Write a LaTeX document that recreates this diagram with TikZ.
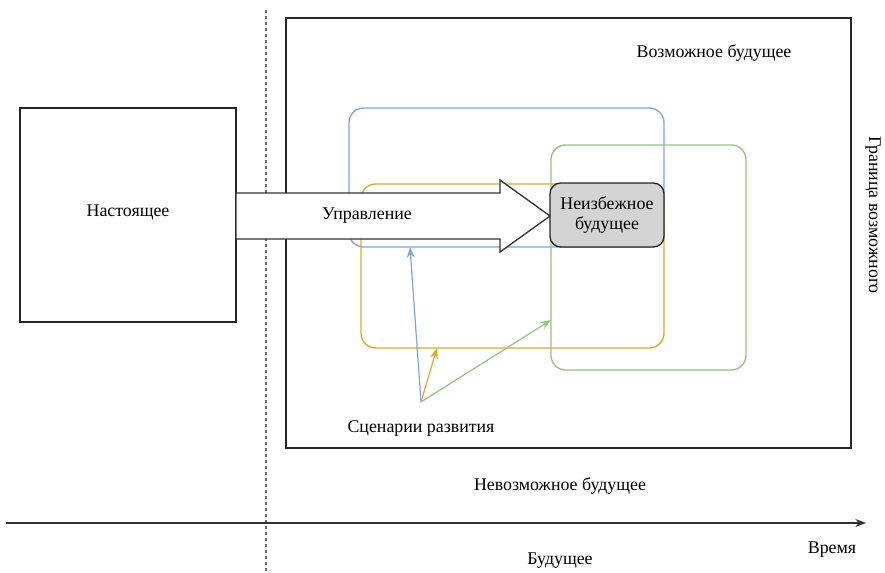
\documentclass[tikz,border=0pt]{standalone}
\usepackage{fontspec}
\setmainfont{Liberation Serif}
\usetikzlibrary{arrows.meta,shapes.arrows}
\definecolor{cblue}{HTML}{7EA6E0}
\definecolor{corange}{HTML}{E3A82B}
\definecolor{cgreen}{HTML}{97C47E}
\definecolor{cgray}{HTML}{D4D4D4}
\tikzset{
  lbl/.style={font=\fontsize{13.4}{15}\selectfont, inner sep=0pt},
  plainbox/.style={draw=black!85, line width=1pt, inner sep=0pt},
  zone/.style={line width=1pt, rounded corners=11pt, inner sep=0pt},
  scen/.style={line width=0.9pt, -{Stealth[length=8pt,width=6pt]}},
}
\begin{document}
\begin{tikzpicture}[x=0.75pt,y=-0.75pt]
\useasboundingbox (0,0) rectangle (885,572);
\fill[white] (0,0) rectangle (885,572);

% present / future boundary
\draw[black!60, line width=1pt, dash pattern=on 2.5pt off 2pt] (266,10) -- (266,572);

% possible future frame
\draw[plainbox] (286,18) rectangle (851,448);
\node[lbl] (possible) at (714,53) {Возможное будущее};
\node[lbl, rotate=-90] (border) at (873,215) {Граница возможного};

% present
\draw[plainbox] (20,108) rectangle (236,322);
\node[lbl] (present) at (128,213) {Настоящее};

% scenario zones
\draw[zone, draw=cblue] (349,108) rectangle (664,247);
\draw[zone, draw=corange] (361,184) rectangle (664,348);
\draw[zone, draw=cgreen] (551,145) rectangle (746,370);

% control arrow
\draw[black!80, line width=1pt, fill=white, line join=miter]
  (236,193) -- (500,193) -- (500,180) -- (550,216) -- (500,252) -- (500,239) -- (236,239) -- cycle;
\node[lbl] (control) at (367,216) {Управление};

% inevitable future
\node[draw=black!85, line width=1pt, fill=cgray, rounded corners=8pt,
      minimum width=114*0.75pt, minimum height=64*0.75pt, align=center,
      font=\fontsize{13.4}{15}\selectfont, inner sep=0pt] (inev) at (607,215)
      {Неизбежное\\будущее};

% scenarios
\node[lbl] (scenarios) at (421,428) {Сценарии развития};
\coordinate (src) at (421,402);
\coordinate (tblue) at (410,247);
\coordinate (torange) at (437,348);
\coordinate (tgreen) at (551,320);
\draw[scen, cblue] (src) -- (tblue);
\draw[scen, corange] (src) -- (torange);
\draw[scen, cgreen] (src) -- (tgreen);

\node[lbl] (impossible) at (560,486) {Невозможное будущее};

% time axis
\coordinate (tstart) at (6,523);
\coordinate (tend) at (866,523);
\draw[black!80, line width=1pt, -{Stealth[length=8pt,width=6pt]}] (tstart) -- (tend);
\node[lbl] (time) at (832,550) {Время};
\node[lbl] (future) at (560,561) {Будущее};
\end{tikzpicture}
\end{document}
